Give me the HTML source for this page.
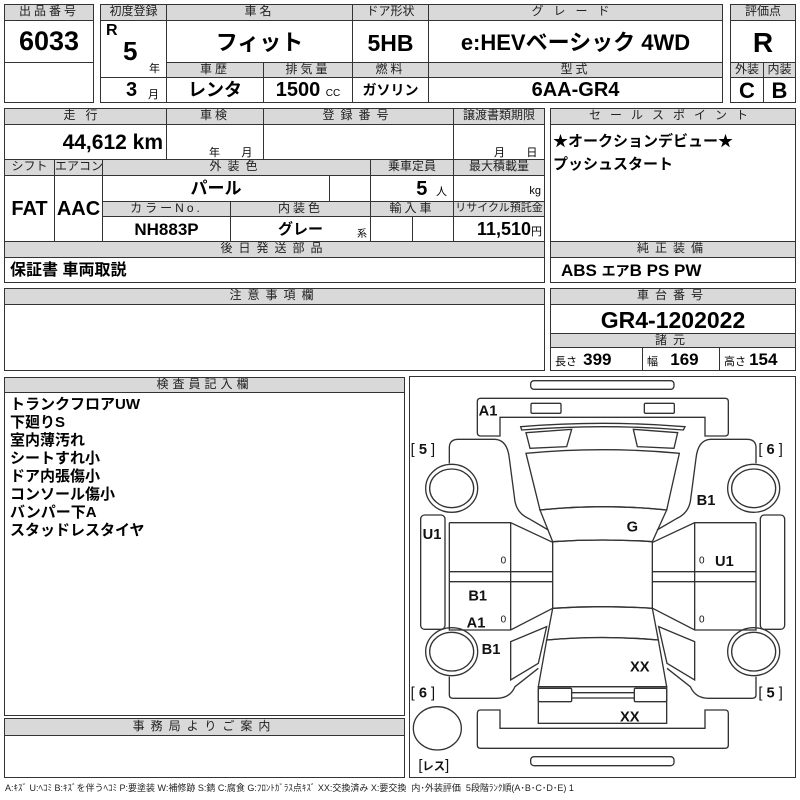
<!DOCTYPE html>
<html><head><meta charset="utf-8">
<style>
body{margin:0;width:800px;height:800px;background:#fff;position:relative;overflow:hidden;font-family:"Liberation Sans Narrow","Liberation Sans","Noto Sans CJK JP",sans-serif;color:#000}
.c{position:absolute;border:1.5px solid #333;box-sizing:border-box;overflow:hidden;white-space:nowrap}
.h{background:#d9d9d9;text-align:center;font-size:12px;line-height:13px;letter-spacing:3px;color:#222;font-family:"Liberation Sans","Noto Sans CJK JP",sans-serif}
.v{font-weight:bold;text-align:center;font-family:"Liberation Sans Narrow","Liberation Sans","Noto Sans CJK JP",sans-serif}
.t{position:absolute;white-space:nowrap}
.j{font-family:"Liberation Sans","Noto Sans CJK JP",sans-serif}
</style></head><body>
<!-- top block -->
<div class="c h" style="left:4px;top:4px;width:90px;height:17px">出品番号</div>
<div class="c v" style="left:4px;top:20px;width:90px;height:43px;font-size:27px;line-height:40px">6033</div>
<div class="c" style="left:4px;top:62px;width:90px;height:41px"></div>

<div class="c h" style="left:100px;top:4px;width:67px;height:17px;letter-spacing:0">初度登録</div>
<div class="c h" style="left:166px;top:4px;width:187px;height:17px">車名</div>
<div class="c h" style="left:352px;top:4px;width:77px;height:17px;letter-spacing:0">ドア形状</div>
<div class="c h" style="left:428px;top:4px;width:295px;height:17px;letter-spacing:10px">グレード</div>
<div class="c" style="left:100px;top:20px;width:67px;height:58px"></div>
<div class="t v" style="left:106px;top:22px;font-size:16px">R</div>
<div class="t v" style="left:123px;top:36px;font-size:26px">5</div>
<div class="t j" style="left:149px;top:60px;font-size:11px">年</div>
<div class="c" style="left:100px;top:77px;width:67px;height:26px"></div>
<div class="t v" style="left:126px;top:79px;font-size:20px">3</div>
<div class="t j" style="left:148px;top:86px;font-size:11px">月</div>
<div class="c v j" style="left:166px;top:20px;width:187px;height:43px;font-size:22px;line-height:44px">フィット</div>
<div class="c v" style="left:352px;top:20px;width:77px;height:43px;font-size:23px;line-height:44px">5HB</div>
<div class="c v j" style="left:428px;top:20px;width:295px;height:43px;font-size:22px;line-height:44px">e:HEVベーシック 4WD</div>
<div class="c h" style="left:166px;top:62px;width:98px;height:16px">車歴</div>
<div class="c h" style="left:263px;top:62px;width:90px;height:16px">排気量</div>
<div class="c h" style="left:352px;top:62px;width:77px;height:16px">燃料</div>
<div class="c h" style="left:428px;top:62px;width:295px;height:16px">型式</div>
<div class="c v j" style="left:166px;top:77px;width:98px;height:26px;font-size:18px;line-height:25px">レンタ</div>
<div class="c v" style="left:263px;top:77px;width:90px;height:26px;font-size:20px;line-height:25px">1500 <span style="font-size:10px;font-weight:normal">CC</span></div>
<div class="c v j" style="left:352px;top:77px;width:77px;height:26px;font-size:14px;line-height:25px">ガソリン</div>
<div class="c v" style="left:428px;top:77px;width:295px;height:26px;font-size:20px;line-height:25px">6AA-GR4</div>

<div class="c h" style="left:730px;top:4px;width:66px;height:17px;letter-spacing:0">評価点</div>
<div class="c v" style="left:730px;top:20px;width:66px;height:43px;font-size:28px;line-height:44px">R</div>
<div class="c h" style="left:730px;top:62px;width:34px;height:16px;letter-spacing:0">外装</div>
<div class="c h" style="left:763px;top:62px;width:33px;height:16px;letter-spacing:0">内装</div>
<div class="c v" style="left:730px;top:77px;width:34px;height:26px;font-size:22px;line-height:25px">C</div>
<div class="c v" style="left:763px;top:77px;width:33px;height:26px;font-size:22px;line-height:25px">B</div>

<!-- second block -->
<div class="c h" style="left:4px;top:108px;width:163px;height:17px;letter-spacing:10px">走行</div>
<div class="c h" style="left:166px;top:108px;width:98px;height:17px">車検</div>
<div class="c h" style="left:263px;top:108px;width:191px;height:17px;letter-spacing:6px">登録番号</div>
<div class="c h" style="left:453px;top:108px;width:92px;height:17px;letter-spacing:0">譲渡書類期限</div>
<div class="c v" style="left:4px;top:124px;width:163px;height:36px;font-size:21px;line-height:36px;text-align:right;padding-right:3px">44,612 km</div>
<div class="c j" style="left:166px;top:124px;width:98px;height:36px;font-size:11px;padding:19px 0 0 42px">年&nbsp;&nbsp;&nbsp;&nbsp;&nbsp;&nbsp;&nbsp;月</div>
<div class="c" style="left:263px;top:124px;width:191px;height:36px"></div>
<div class="c j" style="left:453px;top:124px;width:92px;height:36px;font-size:11px;padding:19px 0 0 40px">月&nbsp;&nbsp;&nbsp;&nbsp;&nbsp;&nbsp;&nbsp;日</div>

<div class="c h" style="left:4px;top:159px;width:51px;height:17px;letter-spacing:0">シフト</div>
<div class="c h" style="left:54px;top:159px;width:49px;height:17px;letter-spacing:0">エアコン</div>
<div class="c h" style="left:102px;top:159px;width:269px;height:17px;letter-spacing:6px">外装色</div>
<div class="c h" style="left:370px;top:159px;width:84px;height:17px;letter-spacing:0">乗車定員</div>
<div class="c h" style="left:453px;top:159px;width:92px;height:17px;letter-spacing:0">最大積載量</div>
<div class="c v" style="left:4px;top:175px;width:51px;height:67px;font-size:20px;line-height:66px">FAT</div>
<div class="c v" style="left:54px;top:175px;width:49px;height:67px;font-size:20px;line-height:66px">AAC</div>
<div class="c v j" style="left:102px;top:175px;width:228px;height:27px;font-size:17px;line-height:26px">パール</div>
<div class="c" style="left:329px;top:175px;width:42px;height:27px"></div>
<div class="c v" style="left:370px;top:175px;width:84px;height:27px;font-size:20px;line-height:26px;text-align:right;padding-right:6px">5 <span style="font-size:11px;font-weight:normal" class="j">&nbsp;人</span></div>
<div class="c j" style="left:453px;top:175px;width:92px;height:27px;font-size:11px;text-align:right;padding:9px 3px 0 0">kg</div>
<div class="c h" style="left:102px;top:201px;width:129px;height:16px">カラーNo.</div>
<div class="c h" style="left:230px;top:201px;width:141px;height:16px">内装色</div>
<div class="c h" style="left:370px;top:201px;width:84px;height:16px">輸入車</div>
<div class="c h" style="left:453px;top:201px;width:92px;height:16px;letter-spacing:0;font-size:11px">リサイクル預託金</div>
<div class="c v" style="left:102px;top:216px;width:129px;height:26px;font-size:17px;line-height:25px">NH883P</div>
<div class="c v j" style="left:230px;top:216px;width:141px;height:26px;font-size:15px;line-height:25px">グレー<span style="position:absolute;left:126px;top:5px;font-size:10px;font-weight:normal">系</span></div>
<div class="c" style="left:370px;top:216px;width:43px;height:26px"></div>
<div class="c" style="left:412px;top:216px;width:42px;height:26px"></div>
<div class="c v" style="left:453px;top:216px;width:92px;height:26px;font-size:18px;line-height:25px;text-align:right;padding-right:2px">11,510<span class="j" style="font-size:11px;font-weight:normal">円</span></div>
<div class="c h" style="left:4px;top:241px;width:541px;height:17px;letter-spacing:6px">後日発送部品</div>
<div class="c v j" style="left:4px;top:257px;width:541px;height:26px;font-size:16px;line-height:25px;text-align:left;padding-left:5px">保証書 車両取説</div>

<div class="c h" style="left:550px;top:108px;width:246px;height:17px;letter-spacing:9px">セールスポイント</div>
<div class="c v j" style="left:550px;top:124px;width:246px;height:118px;font-size:15px;line-height:23px;text-align:left;padding:5px 0 0 2px">★オークションデビュー★<br>プッシュスタート</div>
<div class="c h" style="left:550px;top:241px;width:246px;height:17px;letter-spacing:6px">純正装備</div>
<div class="c v" style="left:550px;top:257px;width:246px;height:26px;font-size:17px;line-height:25px;text-align:left;padding-left:10px">ABS <span class="j" style="font-size:14px">エア</span>B PS PW</div>

<!-- third block -->
<div class="c h" style="left:4px;top:288px;width:541px;height:17px;letter-spacing:6px">注意事項欄</div>
<div class="c" style="left:4px;top:304px;width:541px;height:67px"></div>
<div class="c h" style="left:550px;top:288px;width:246px;height:17px;letter-spacing:6px">車台番号</div>
<div class="c v" style="left:550px;top:304px;width:246px;height:30px;font-size:23px;line-height:30px">GR4-1202022</div>
<div class="c h" style="left:550px;top:333px;width:246px;height:15px;letter-spacing:6px">諸元</div>
<div class="c v" style="left:550px;top:347px;width:93px;height:24px;font-size:17px;line-height:23px;text-align:left;padding-left:4px"><span class="j" style="font-size:11px;font-weight:normal">長さ&nbsp;&nbsp;</span>399</div>
<div class="c v" style="left:642px;top:347px;width:78px;height:24px;font-size:17px;line-height:23px;text-align:left;padding-left:4px"><span class="j" style="font-size:11px;font-weight:normal">幅&nbsp;&nbsp;&nbsp;&nbsp;</span>169</div>
<div class="c v" style="left:719px;top:347px;width:77px;height:24px;font-size:17px;line-height:23px;text-align:left;padding-left:4px"><span class="j" style="font-size:11px;font-weight:normal">高さ&nbsp;</span>154</div>

<div class="c h" style="left:4px;top:377px;width:401px;height:16px;letter-spacing:4px">検査員記入欄</div>
<div class="c v j" style="left:4px;top:392px;width:401px;height:324px;font-size:15px;line-height:18px;text-align:left;padding:3px 0 0 5px">トランクフロアUW<br>下廻りS<br>室内薄汚れ<br>シートすれ小<br>ドア内張傷小<br>コンソール傷小<br>バンパー下A<br>スタッドレスタイヤ</div>
<div class="c h" style="left:4px;top:718px;width:401px;height:18px;letter-spacing:6px;line-height:15px">事務局よりご案内</div>
<div class="c" style="left:4px;top:735px;width:401px;height:43px"></div>

<div class="c" style="left:409px;top:376px;width:387px;height:402px"></div>
<svg style="position:absolute;left:400px;top:370px" width="400" height="430" viewBox="0 0 1200 1290">
<g fill="none" stroke="#333" stroke-width="4">
<rect x="392" y="32" width="430" height="26" rx="10"/>
<path d="M242,85 H975 Q985,85 985,95 V188 Q985,198 975,198 H915 V142 H300 V198 H242 Q232,198 232,188 V95 Q232,85 242,85Z"/>
<rect x="393" y="100" width="90" height="30" rx="4"/>
<rect x="733" y="100" width="90" height="30" rx="4"/>
<path d="M362,170 Q608,150 855,170 L850,180 Q608,160 365,180Z"/>
<path d="M378,188 L515,178 L500,230 L390,235Z"/>
<path d="M700,178 L833,188 L822,235 L712,230Z"/>
<path d="M378,250 Q608,228 838,250 L800,420 Q608,400 420,420Z"/>
<path d="M420,420 Q608,400 800,420 L757,515 Q608,505 458,515Z"/>
<path d="M458,515 Q608,505 757,515 V715 Q608,705 458,715Z"/>
<path d="M458,715 Q608,705 757,715 L775,810 Q608,795 440,810Z"/>
<path d="M440,810 Q608,795 775,810 L800,950 H415Z"/>
<rect x="415" y="950" width="385" height="110"/>
<rect x="415" y="955" width="100" height="40" rx="4"/>
<rect x="703" y="955" width="97" height="40" rx="4"/>
<line x1="515" y1="968" x2="703" y2="968"/><line x1="515" y1="984" x2="703" y2="984"/>
<path d="M242,1020 H300 V1075 H915 V1020 H975 Q985,1020 985,1030 V1125 Q985,1135 975,1135 H242 Q232,1135 232,1125 V1030 Q232,1020 242,1020Z"/>
<rect x="392" y="1160" width="430" height="27" rx="10"/>
<ellipse cx="112" cy="1075" rx="72" ry="65"/>
<g id="side">
<path d="M148,280 V230 Q150,208 175,208 H285 Q322,210 328,265 L345,395 Q352,430 385,445 L445,480"/>
<ellipse cx="155" cy="355" rx="78" ry="72"/>
<ellipse cx="155" cy="355" rx="66" ry="58"/>
<rect x="62" y="435" width="73" height="343" rx="12"/>
<path d="M148,458 H332 L458,517 M148,458 V780 H332 L458,715 M332,458 V780 M148,605 H458 M148,635 H458"/>
<path d="M332,815 L440,770 L415,880 L332,930Z"/>
<ellipse cx="155" cy="845" rx="78" ry="72"/>
<ellipse cx="155" cy="845" rx="66" ry="58"/>
<path d="M148,920 V975 Q148,985 160,985 H290 Q330,985 345,950 L415,895"/>
</g>
<use href="#side" transform="translate(1216,0) scale(-1,1)"/>
</g>
<g font-family="Liberation Sans, sans-serif" font-weight="bold" font-size="44" fill="#111">
<text x="236" y="136">A1</text>
<text x="890" y="405">B1</text>
<text x="680" y="485">G</text>
<text x="68" y="507">U1</text>
<text x="945" y="588">U1</text>
<text x="205" y="692">B1</text>
<text x="200" y="772">A1</text>
<text x="245" y="852">B1</text>
<text x="690" y="905">XX</text>
<text x="660" y="1055">XX</text>
<g font-weight="normal" font-size="30"><text x="302" y="580">0</text><text x="302" y="758">0</text><text x="897" y="580">0</text><text x="897" y="758">0</text></g>
<text x="32" y="252" font-weight="normal">[ <tspan font-weight="bold">5</tspan> ]</text>
<text x="1075" y="252" font-weight="normal">[ <tspan font-weight="bold">6</tspan> ]</text>
<text x="32" y="982" font-weight="normal">[ <tspan font-weight="bold">6</tspan> ]</text>
<text x="1075" y="982" font-weight="normal">[ <tspan font-weight="bold">5</tspan> ]</text>
<text x="55" y="1200" font-weight="normal">[<tspan font-family="Noto Sans CJK JP" font-size="34" font-weight="bold">レス</tspan>]</text>
</g>
</svg>
<div class="t j" style="left:5px;top:781px;font-size:9px;color:#222">A:ｷｽﾞ U:ﾍｺﾐ B:ｷｽﾞを伴うﾍｺﾐ P:要塗装 W:補修跡 S:錆 C:腐食 G:ﾌﾛﾝﾄｶﾞﾗｽ点ｷｽﾞ XX:交換済み X:要交換 &nbsp;内･外装評価 &nbsp;5段階ﾗﾝｸ順(A･B･C･D･E) 1</div>
</body></html>
